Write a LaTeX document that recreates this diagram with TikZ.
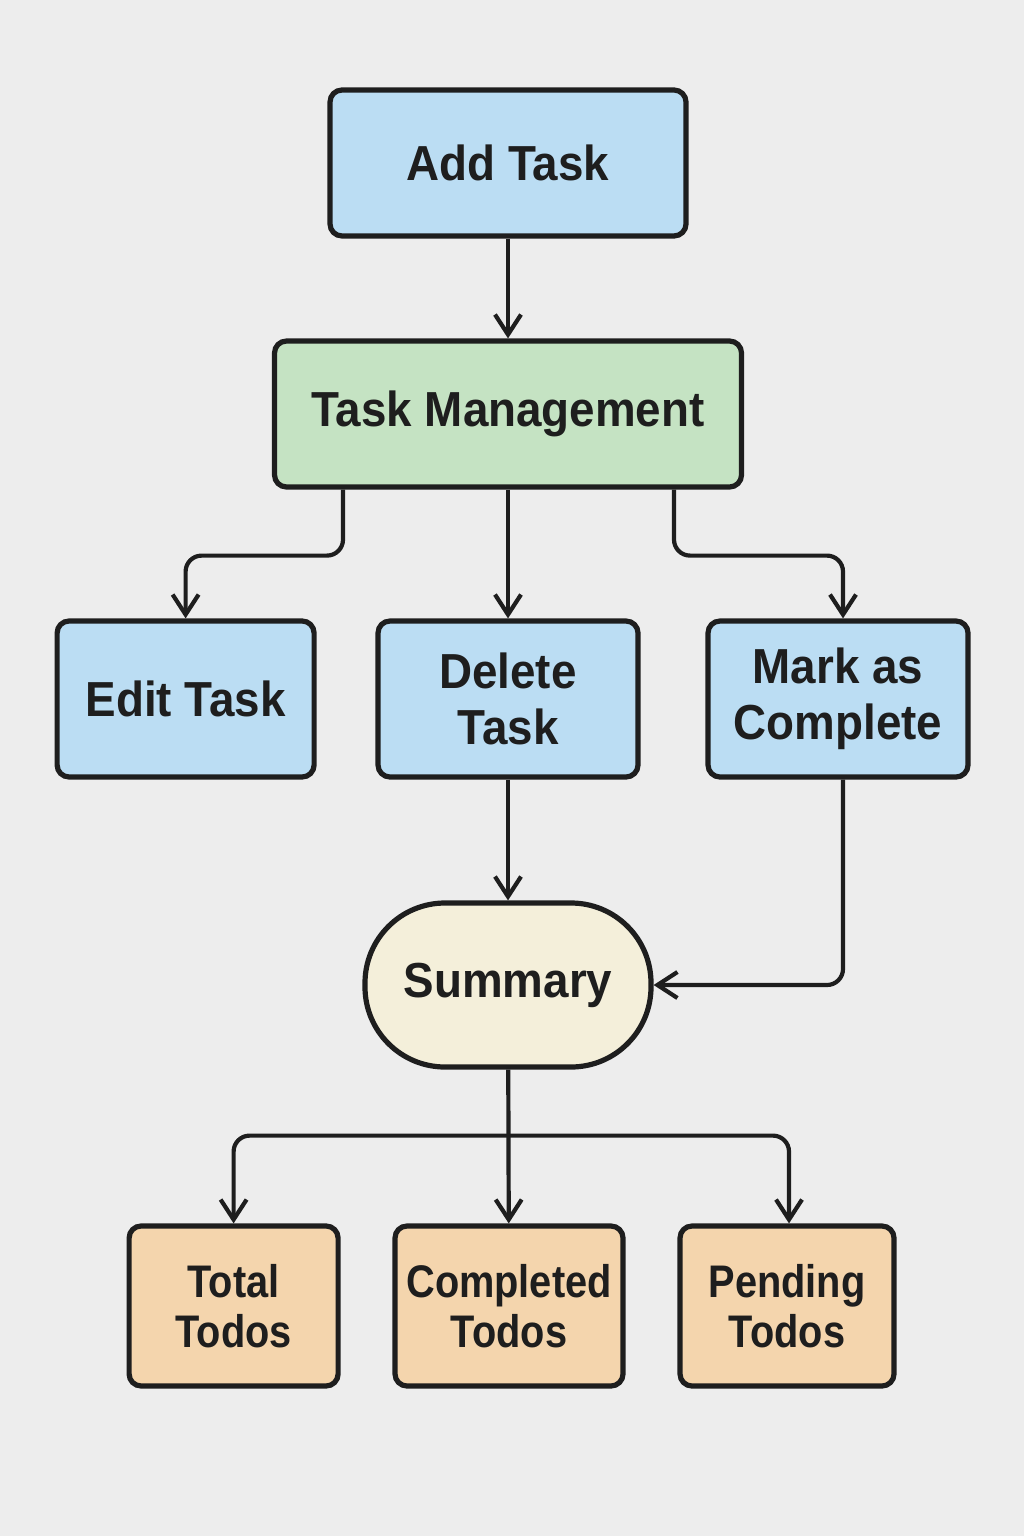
\documentclass[tikz,border=0pt]{standalone}
\usepackage{fontspec}
\setmainfont[FakeStretch=0.93]{Liberation Sans}
\newfontfamily\narrowfont[FakeStretch=0.87]{Liberation Sans}
\usetikzlibrary{arrows.meta,positioning,calc}
\definecolor{BG-GRAY}{RGB}{237, 237, 237}
\definecolor{LINE-DARK}{RGB}{30, 30, 30}
\definecolor{BOX-BLUE}{RGB}{187, 221, 243}
\definecolor{BOX-GREEN}{RGB}{197, 227, 195}
\definecolor{BOX-CREAM}{RGB}{244, 239, 218}
\definecolor{BOX-ORANGE}{RGB}{244, 213, 173}

\tikzset{
  box/.style={draw=LINE-DARK, line width=1.3mm, rounded corners=3mm, align=center,
    text=LINE-DARK, inner sep=0pt, font=\bfseries\fontsize{35}{40}\selectfont},
  todo/.style={box, fill=BOX-ORANGE, minimum height=4cm,
    font=\narrowfont\bfseries\fontsize{32.5}{36}\selectfont},
  flow/.style={draw=LINE-DARK, line width=1.05mm, rounded corners=4mm,
    -{Straight Barb[length=5mm,width=6.5mm]}}
}

\begin{document}
\begin{tikzpicture}
  % Background
  \fill[BG-GRAY] (0,0) rectangle (25.6,-38.4);

  % Top row
  \node[box, fill=BOX-BLUE, minimum width=8.9cm, minimum height=3.65cm] (add) at (12.7,-4.075) {Add Task};
  \node[box, fill=BOX-GREEN, minimum width=11.675cm, minimum height=3.65cm] (tm) at (12.7,-10.35) {Task Management};

  % Task actions
  \node[box, fill=BOX-BLUE, minimum width=6.425cm, minimum height=3.9cm] (edit) at (4.64,-17.475) {Edit Task};
  \node[box, fill=BOX-BLUE, minimum width=6.5cm, minimum height=3.9cm] (delete) at (12.7,-17.475) {Delete\\Task};
  \node[box, fill=BOX-BLUE, minimum width=6.5cm, minimum height=3.9cm] (mark) at (20.95,-17.475) {Mark as\\Complete};

  % Summary (stadium)
  \node[box, fill=BOX-CREAM, rounded corners=20mm, minimum width=7.15cm, minimum height=4.1cm] (summary) at (12.7,-24.625) {Summary};

  % Counters
  \node[todo, minimum width=5.225cm] (total) at (5.84,-32.65) {Total\\Todos};
  \node[todo, minimum width=5.7cm] (completed) at (12.725,-32.65) {Completed\\Todos};
  \node[todo, minimum width=5.35cm] (pending) at (19.675,-32.65) {Pending\\Todos};

  % Connectors
  \draw[flow] (add) -- (tm);
  \draw[flow] ([xshift=-4.125cm]tm.south) -- ++(0,-1.65) -| (edit.north);
  \draw[flow] (tm) -- (delete);
  \draw[flow] ([xshift=4.15cm]tm.south) -- ++(0,-1.65) -| ([xshift=1.25mm]mark.north);
  \draw[flow] (delete) -- (summary);
  \draw[flow] ([xshift=1.25mm]mark.south) |- (summary.east);
  \draw[flow] (summary) -- (completed);
  \coordinate (bus) at ([yshift=-1.65cm]summary.south);
  \draw[flow] (bus) -| (total.north);
  \draw[flow] (bus) -| ([xshift=0.5mm]pending.north);
\end{tikzpicture}
\end{document}
